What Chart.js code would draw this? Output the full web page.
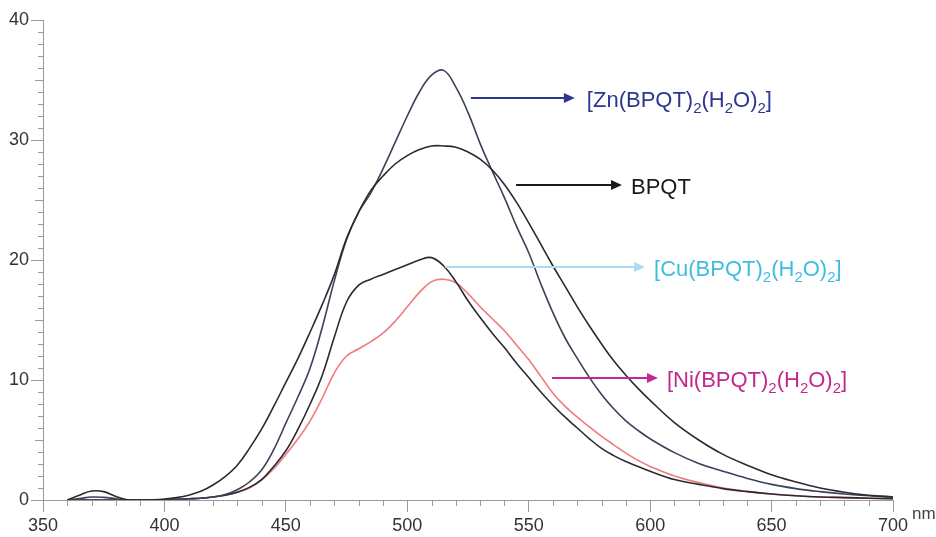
<!DOCTYPE html>
<html>
<head>
<meta charset="utf-8">
<script src="https://cdn.jsdelivr.net/npm/chart.js@4.4.1/dist/chart.umd.min.js"></script>
<style>
  html, body { margin: 0; padding: 0; background: #fff; }
  #wrap { width: 936px; height: 537px; }
</style>
</head>
<body>
<div id="wrap"><canvas id="grafico" width="936" height="537"></canvas></div>
<script>
/* ---------- dados ---------- */
const comprimentos = [360,365,370,375,380,385,390,395,400,405,410,415,420,425,430,435,440,445,450,455,460,465,470,475,480,485,490,495,500,505,510,515,520,525,530,535,540,545,550,555,560,565,570,575,580,585,590,595,600,610,620,630,640,650,660,670,680,690,700];

const bpqt = [0,0.4,0.75,0.7,0.3,0,0,0.02,0.08,0.2,0.4,0.72,1.25,1.95,2.9,4.3,5.9,7.8,9.8,11.8,14.0,16.3,18.8,21.8,24.0,25.8,27.0,28.0,28.7,29.2,29.5,29.5,29.4,29.0,28.4,27.5,26.3,24.8,23.1,21.3,19.5,17.8,16.1,14.5,13.0,11.6,10.4,9.3,8.3,6.45,5.0,3.8,2.9,2.1,1.5,1.0,0.65,0.4,0.25];

const zn = [0,0.12,0.25,0.22,0.1,0,0,0,0.02,0.05,0.1,0.15,0.25,0.45,0.85,1.5,2.5,4.2,6.4,8.6,11.0,14.4,18.3,21.7,24.0,25.6,27.6,29.8,32.0,34.0,35.4,35.8,34.4,32.3,29.7,27.4,25.2,22.8,20.6,18.0,15.6,13.5,11.8,10.2,8.8,7.6,6.6,5.8,5.1,3.95,3.05,2.4,1.8,1.3,0.95,0.7,0.5,0.35,0.25];

const cu = [0,0,0,0,0,0,0,0,0.02,0.05,0.1,0.15,0.25,0.4,0.65,1.05,1.7,2.8,4.1,5.9,8.0,10.4,13.6,16.5,17.9,18.4,18.8,19.2,19.6,20.0,20.2,19.5,18.2,16.6,15.2,13.9,12.7,11.4,10.2,9.0,7.9,6.9,6.0,5.1,4.3,3.7,3.2,2.8,2.4,1.7,1.3,0.95,0.7,0.5,0.35,0.25,0.2,0.15,0.1];

const ni = [0,0,0,0,0,0,0,0,0.02,0.05,0.1,0.15,0.25,0.4,0.65,1.0,1.65,2.6,3.8,5.1,6.6,8.5,10.6,12.0,12.6,13.2,13.9,14.9,16.1,17.3,18.2,18.4,18.1,17.2,16.1,15.1,14.1,12.9,11.7,10.3,8.9,7.8,6.9,6.1,5.3,4.6,3.9,3.3,2.8,2.0,1.45,1.0,0.72,0.5,0.35,0.25,0.2,0.15,0.1];

// rótulos das setas: texto, início (nm, valor) e ponta da seta
const rotulos = ['[Zn(BPQT)_2(H_2O)_2]', 'BPQT', '[Cu(BPQT)_2(H_2O)_2]', '[Ni(BPQT)_2(H_2O)_2]'];
const setaInicio = [[526.2, 33.5], [544.8, 26.25], [515.5, 19.45], [559.6, 10.17]];
const setaFim = [[569, 33.5], [588.4, 26.25], [597.9, 19.45], [603.2, 10.17]];
const coresRotulo = ['#2e3790', '#1a1a1a', '#3ebde2', '#c4288e'];
const coresSeta = ['#2e3790', '#1a1a1a', '#a9dcee', '#c4288e'];

/* ---------- auxiliares ---------- */
const pares = arr => comprimentos.map((x, i) => ({ x, y: arr[i] }));

function desenharFormula(ctx, txt, x, y, cor) {
  // "_" marca o caractere seguinte como subscrito
  ctx.fillStyle = cor;
  ctx.textBaseline = 'alphabetic';
  ctx.textAlign = 'left';
  let i = 0;
  while (i < txt.length) {
    if (txt[i] === '_') {
      ctx.font = '15px "Liberation Sans", Arial, sans-serif';
      ctx.fillText(txt[i + 1], x, y + 6);
      x += ctx.measureText(txt[i + 1]).width;
      i += 2;
    } else {
      let j = i;
      while (j < txt.length && txt[j] !== '_') j++;
      const pedaco = txt.slice(i, j);
      ctx.font = '22px "Liberation Sans", Arial, sans-serif';
      ctx.fillText(pedaco, x, y);
      x += ctx.measureText(pedaco).width;
      i = j;
    }
  }
}

const pluginMarcas = {
  id: 'marcas',
  afterDraw(chart) {
    const ctx = chart.ctx;
    const sx = chart.scales.x, sy = chart.scales.y;
    const y0 = sy.getPixelForValue(0);
    const x0 = sx.getPixelForValue(350);
    ctx.save();
    ctx.strokeStyle = '#9a9a9a';
    ctx.lineWidth = 1;
    // marcas menores em x
    for (let v = 360; v < 700; v += 10) {
      if (v % 50 === 0) continue;
      const px = Math.round(sx.getPixelForValue(v)) + 0.5;
      ctx.beginPath(); ctx.moveTo(px, y0); ctx.lineTo(px, y0 + 6); ctx.stroke();
    }
    // marcas menores em y
    for (let v = 1; v < 40; v++) {
      if (v % 10 === 0) continue;
      const py = Math.round(sy.getPixelForValue(v)) + 0.5;
      const len = v % 5 === 0 ? 8 : 5;
      ctx.beginPath(); ctx.moveTo(x0 - len, py); ctx.lineTo(x0, py); ctx.stroke();
    }
    // unidade
    ctx.fillStyle = '#444';
    ctx.font = '17px "Liberation Sans", Arial, sans-serif';
    ctx.textAlign = 'left';
    ctx.textBaseline = 'middle';
    ctx.fillText('nm', sx.right + 19, y0 + 14);

    // setas e rótulos
    rotulos.forEach((txt, k) => {
      const xa = sx.getPixelForValue(setaInicio[k][0]);
      const ya = Math.round(sy.getPixelForValue(setaInicio[k][1]));
      const xb = sx.getPixelForValue(setaFim[k][0]);
      ctx.strokeStyle = coresSeta[k];
      ctx.fillStyle = coresSeta[k];
      ctx.lineWidth = 2;
      ctx.beginPath(); ctx.moveTo(xa, ya); ctx.lineTo(xb - 8, ya); ctx.stroke();
      ctx.beginPath();
      ctx.moveTo(xb, ya); ctx.lineTo(xb - 11, ya - 5); ctx.lineTo(xb - 11, ya + 5);
      ctx.closePath(); ctx.fill();
      desenharFormula(ctx, txt, xb + (k === 0 ? 12 : 9), ya + 9, coresRotulo[k]);
    });
    ctx.restore();
  }
};

/* ---------- gráfico ---------- */
new Chart(document.getElementById('grafico'), {
  type: 'line',
  data: {
    datasets: [
      { label: 'BPQT', data: pares(bpqt), borderColor: '#2b2b2e' },
      { label: 'Zn', data: pares(zn), borderColor: '#3d4058' },
      { label: 'Cu', data: pares(cu), borderColor: '#2a2a33' },
      { label: 'Ni', data: pares(ni), borderColor: '#f07a7e' }
    ].map(d => Object.assign(d, { borderWidth: 1.6, pointRadius: 0, tension: 0.4, fill: false }))
  },
  options: {
    responsive: false,
    animation: false,
    layout: { padding: { top: 20, right: 43, left: 0, bottom: 0 } },
    plugins: { legend: { display: false }, tooltip: { enabled: false } },
    scales: {
      x: {
        type: 'linear', min: 350, max: 700,
        ticks: { stepSize: 50, color: '#333', padding: 3, font: { size: 18, family: '"Liberation Sans", Arial, sans-serif' } },
        grid: { drawOnChartArea: false, tickLength: 12, color: '#9a9a9a' },
        border: { color: '#9a9a9a' },
        afterFit: s => { s.height = 37; }
      },
      y: {
        min: 0, max: 40,
        ticks: { stepSize: 10, color: '#333', padding: 2, font: { size: 18, family: '"Liberation Sans", Arial, sans-serif' } },
        grid: { drawOnChartArea: false, tickLength: 12, color: '#9a9a9a' },
        border: { color: '#9a9a9a' },
        afterFit: s => { s.width = 43; }
      }
    }
  },
  plugins: [pluginMarcas]
});
</script>
</body>
</html>
